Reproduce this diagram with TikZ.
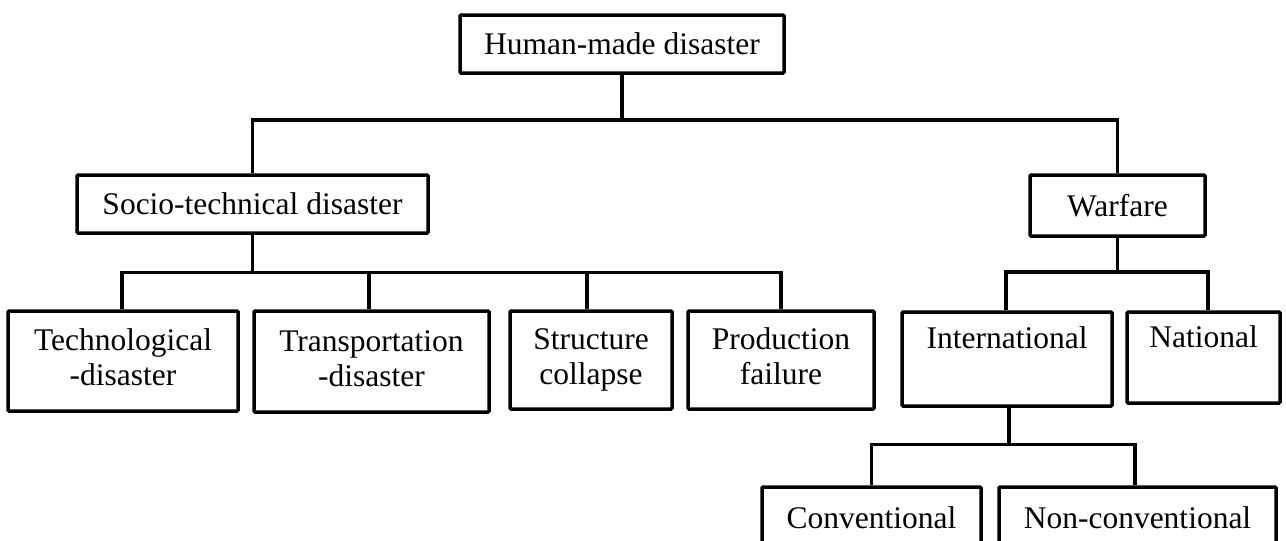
\documentclass[tikz,border=0pt]{standalone}
\usepackage{fontspec}
\setmainfont{Liberation Serif}
\begin{document}
\begin{tikzpicture}[x=1pt,y=-1pt,
  box/.style={draw=black, line width=3.5pt, rounded corners=1pt, inner sep=0pt, align=center,
    font=\fontsize{31.5}{35}\selectfont},
  lbl/.style={inner sep=0pt, font=\fontsize{31.5}{35}\selectfont},
  conn/.style={draw=black, line width=3.5pt, line join=miter}]
\useasboundingbox (0,0) rectangle (1286,541);
% boxes
\node[box, minimum width=324pt, minimum height=58pt] (top) at (622,44) {Human-made disaster};
\node[box, minimum width=351pt, minimum height=58pt] (socio) at (252.5,204) {Socio-technical disaster};
\node[box, minimum width=175pt, minimum height=61pt] (war) at (1117.5,205.5) {Warfare};
\node[box, minimum width=230pt, minimum height=100pt] (tech) at (123,361) {\strut Technological\\\strut -disaster};
\node[box, minimum width=235pt, minimum height=101pt] (trans) at (371.5,361.5) {\strut Transportation\\\strut -disaster};
\node[box, minimum width=162pt, minimum height=98pt] (struct) at (591,360) {\strut Structure\\\strut collapse};
\node[box, minimum width=186pt, minimum height=98pt] (prod) at (781,360) {\strut Production\\\strut failure};
\node[box, minimum width=210pt, minimum height=94pt] (intl) at (1007,359) {\strut International\\\strut};
\node[box, minimum width=153pt, minimum height=91pt] (natl) at (1203.5,357.5) {\strut National\\\strut};
\node[box, minimum width=219pt, minimum height=60pt] (conv) at (871.5,517) {};
\node[box, minimum width=277pt, minimum height=60pt] (nonconv) at (1137.5,517) {};
\node[lbl] (convt) at (871.5,518) {Conventional};
\node[lbl] (nonconvt) at (1137.5,518) {Non-conventional};
% bus levels
\coordinate (b1) at (0,120);
\coordinate (b2) at (0,272.5);
\coordinate (b3) at (0,272);
\coordinate (b4) at (0,444.5);
% connectors
\draw[conn] (top.south) -- (top.south |- b1);
\draw[conn] (socio.north) -- (socio.north |- b1) -- (war.north |- b1) -- (war.north);
\draw[conn] (socio.south) -- (socio.south |- b2);
\draw[conn] ([xshift=-1pt]tech.north) -- ([xshift=-1pt]tech.north |- b2) -- (prod.north |- b2) -- (prod.north);
\draw[conn] ([xshift=-2.5pt]trans.north) -- ([xshift=-2.5pt]trans.north |- b2);
\draw[conn] ([xshift=-4pt]struct.north) -- ([xshift=-4pt]struct.north |- b2);
\draw[conn] (war.south) -- (war.south |- b3);
\draw[conn] ([xshift=-1pt]intl.north) -- ([xshift=-1pt]intl.north |- b3) -- ([xshift=4.5pt]natl.north |- b3) -- ([xshift=4.5pt]natl.north);
\draw[conn] ([xshift=2pt]intl.south) -- ([xshift=2pt]intl.south |- b4);
\draw[conn] (conv.north) -- (conv.north |- b4) -- ([xshift=-2.5pt]nonconv.north |- b4) -- ([xshift=-2.5pt]nonconv.north);
\end{tikzpicture}
\end{document}
